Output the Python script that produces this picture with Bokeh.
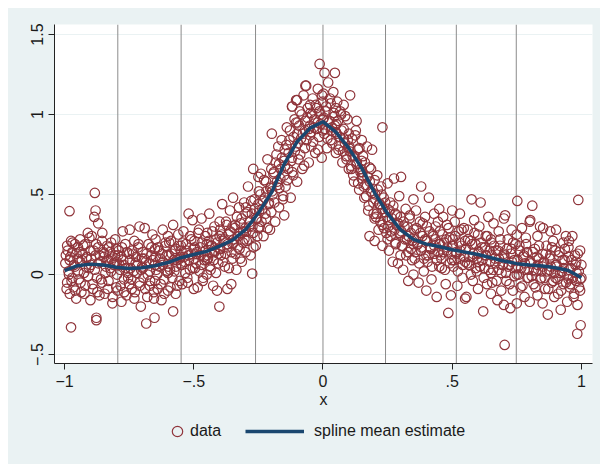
from bokeh.plotting import figure
from bokeh.layouts import column
from bokeh.models import (FixedTicker, Span, Legend, LegendItem, Range1d)
from bokeh.embed import file_html
from bokeh.resources import INLINE

# ---------------- data ----------------
x_data = [
    -0.995,-0.99,-0.99,-0.985,-0.98,-0.98,-0.975,-0.97,-0.97,-0.965,-0.96,-0.96,-0.955,-0.95,
    -0.948,-0.945,-0.94,-0.94,-0.935,-0.93,-0.925,-0.92,-0.92,-0.915,-0.91,-0.905,-0.90,-0.90,
    -0.898,-0.895,-0.89,-0.885,-0.88,-0.88,-0.875,-0.87,-0.87,-0.865,-0.86,-0.855,-0.855,-0.85,
    -0.848,-0.845,-0.84,-0.835,-0.83,-0.83,-0.825,-0.82,-0.82,-0.815,-0.81,-0.805,-0.80,-0.80,
    -0.798,-0.795,-0.79,-0.785,-0.78,-0.78,-0.775,-0.77,-0.77,-0.765,-0.76,-0.755,-0.75,-0.75,
    -0.748,-0.745,-0.74,-0.735,-0.73,-0.73,-0.725,-0.72,-0.715,-0.71,-0.71,-0.705,-0.70,-0.70,
    -0.698,-0.695,-0.69,-0.685,-0.68,-0.675,-0.67,-0.67,-0.665,-0.66,-0.655,-0.65,-0.65,-0.65,
    -0.648,-0.645,-0.64,-0.635,-0.63,-0.625,-0.62,-0.62,-0.615,-0.61,-0.605,-0.60,-0.60,-0.60,
    -0.598,-0.595,-0.59,-0.585,-0.58,-0.575,-0.57,-0.57,-0.565,-0.56,-0.555,-0.55,-0.55,-0.55,
    -0.548,-0.545,-0.54,-0.535,-0.53,-0.525,-0.52,-0.52,-0.515,-0.51,-0.505,-0.50,-0.50,-0.50,
    -0.498,-0.495,-0.49,-0.485,-0.48,-0.475,-0.47,-0.47,-0.465,-0.46,-0.455,-0.45,-0.45,-0.45,
    -0.448,-0.445,-0.44,-0.435,-0.43,-0.425,-0.42,-0.42,-0.415,-0.41,-0.405,-0.40,-0.40,-0.40,
    -0.398,-0.395,-0.39,-0.385,-0.38,-0.375,-0.37,-0.37,-0.365,-0.36,-0.355,-0.35,-0.35,-0.35,
    -0.348,-0.345,-0.34,-0.335,-0.33,-0.325,-0.32,-0.32,-0.315,-0.31,-0.305,-0.30,-0.30,-0.30,
    -0.298,-0.295,-0.29,-0.285,-0.28,-0.275,-0.27,-0.27,-0.265,-0.26,-0.255,-0.25,-0.25,-0.25,
    -0.248,-0.245,-0.24,-0.235,-0.23,-0.225,-0.22,-0.22,-0.215,-0.21,-0.205,-0.20,-0.20,-0.20,
    -0.198,-0.195,-0.19,-0.185,-0.18,-0.175,-0.17,-0.17,-0.165,-0.16,-0.155,-0.15,-0.15,-0.15,
    -0.148,-0.145,-0.14,-0.135,-0.13,-0.125,-0.12,-0.12,-0.115,-0.11,-0.105,-0.10,-0.10,-0.10,
    -0.098,-0.095,-0.09,-0.085,-0.08,-0.075,-0.07,-0.07,-0.065,-0.06,-0.055,-0.05,-0.05,-0.05,
    -0.048,-0.045,-0.04,-0.035,-0.03,-0.025,-0.02,-0.02,-0.015,-0.01,-0.005,0.0,0.0,0.0,
    0.002,0.005,0.01,0.015,0.02,0.025,0.03,0.03,0.035,0.04,0.045,0.05,0.05,0.05,
    0.052,0.055,0.06,0.065,0.07,0.075,0.08,0.08,0.085,0.09,0.095,0.10,0.10,0.10,
    0.102,0.105,0.11,0.115,0.12,0.125,0.13,0.13,0.135,0.14,0.145,0.15,0.15,0.15,
    0.152,0.155,0.16,0.165,0.17,0.175,0.18,0.18,0.185,0.19,0.195,0.20,0.20,0.20,
    0.202,0.205,0.21,0.215,0.22,0.225,0.23,0.23,0.235,0.24,0.245,0.25,0.25,0.25,
    0.252,0.255,0.26,0.265,0.27,0.275,0.28,0.28,0.285,0.29,0.295,0.30,0.30,0.30,
    0.302,0.305,0.31,0.315,0.32,0.325,0.33,0.33,0.335,0.34,0.345,0.35,0.35,0.35,
    0.352,0.355,0.36,0.365,0.37,0.375,0.38,0.38,0.385,0.39,0.395,0.40,0.40,0.40,
    0.402,0.405,0.41,0.415,0.42,0.425,0.43,0.43,0.435,0.44,0.445,0.45,0.45,0.45,
    0.452,0.455,0.46,0.465,0.47,0.475,0.48,0.48,0.485,0.49,0.495,0.50,0.50,0.50,
    0.502,0.505,0.51,0.515,0.52,0.525,0.53,0.53,0.535,0.54,0.545,0.55,0.55,0.55,
    0.552,0.555,0.56,0.565,0.57,0.575,0.58,0.58,0.585,0.59,0.595,0.60,0.60,0.60,
    0.602,0.605,0.61,0.615,0.62,0.625,0.63,0.63,0.635,0.64,0.645,0.65,0.65,0.65,
    0.652,0.655,0.66,0.665,0.67,0.675,0.68,0.68,0.685,0.69,0.695,0.70,0.70,0.70,
    0.702,0.705,0.71,0.715,0.72,0.725,0.73,0.73,0.735,0.74,0.745,0.75,0.75,0.75,
    0.752,0.755,0.76,0.765,0.77,0.775,0.78,0.78,0.785,0.79,0.795,0.80,0.80,0.80,
    0.802,0.805,0.81,0.815,0.82,0.825,0.83,0.83,0.835,0.84,0.845,0.85,0.85,0.85,
    0.852,0.855,0.86,0.865,0.87,0.875,0.88,0.88,0.885,0.89,0.895,0.90,0.90,0.90,
    0.902,0.905,0.91,0.915,0.92,0.925,0.93,0.93,0.935,0.94,0.945,0.95,0.95,0.95,
    0.952,0.955,0.96,0.965,0.97,0.975,0.98,0.98,0.985,0.99,0.995,1.0,1.0,0.995,
]
y_data = [
    0.12,-0.05,0.18,0.02,-0.12,0.09,0.21,-0.02,0.14,-0.08,0.05,0.19,-0.15,0.10,
    0.17,-0.03,0.08,0.22,-0.11,0.13,0.01,0.19,-0.07,0.10,0.26,0.04,-0.16,0.15,
    0.06,0.24,-0.09,0.36,0.40,0.12,-0.02,0.17,0.32,-0.13,0.08,0.21,-0.05,0.14,
    0.11,-0.12,0.05,0.18,0.09,-0.04,0.14,0.02,0.20,-0.18,0.07,0.12,-0.08,0.16,
    0.08,-0.10,0.15,0.03,-0.17,0.11,0.27,-0.03,0.06,0.19,-0.13,0.01,0.13,-0.06,
    0.28,0.04,-0.09,0.13,0.21,-0.15,0.07,0.01,0.17,-0.05,0.30,-0.20,0.10,0.05,
    0.14,-0.02,0.29,0.08,-0.14,0.19,0.02,-0.07,0.12,0.25,-0.11,0.06,0.16,-0.04,
    0.22,0.03,-0.09,0.15,0.10,-0.16,0.28,0.06,-0.03,0.18,0.12,-0.10,0.24,0.01,
    0.05,0.20,-0.08,0.13,0.31,0.02,0.16,-0.12,0.09,0.25,-0.04,0.18,0.07,0.11,
    0.15,-0.06,0.27,0.08,0.19,-0.02,0.38,0.12,0.03,0.22,0.34,-0.09,0.10,0.16,
    0.21,0.04,0.13,-0.08,0.28,0.17,0.06,0.35,-0.04,0.11,0.24,0.00,0.19,0.09,
    0.26,0.10,0.38,0.03,0.18,-0.07,0.30,0.14,0.22,-0.10,0.07,0.33,0.16,0.24,
    0.28,0.12,0.44,0.21,0.05,0.33,-0.09,0.17,0.25,0.40,-0.06,0.10,0.30,0.19,
    0.48,0.22,0.31,0.03,0.17,0.42,0.26,0.10,0.35,0.20,0.45,0.14,0.29,0.38,
    0.42,0.21,0.55,0.30,0.12,0.38,0.66,0.26,0.47,0.18,0.35,0.61,0.29,0.44,
    0.52,0.30,0.63,0.41,0.24,0.48,0.58,0.35,0.72,0.44,0.28,0.55,0.39,0.66,
    0.88,0.50,0.64,0.33,0.75,0.56,0.42,0.69,0.60,0.84,0.47,0.71,0.37,0.62,
    0.78,0.55,0.92,0.66,0.84,0.48,1.05,0.73,0.62,0.97,0.80,0.58,0.88,1.09,
    0.95,0.72,1.02,0.85,0.66,1.12,0.90,0.79,1.18,0.98,0.70,1.06,0.87,0.93,
    1.01,0.80,1.10,0.92,0.76,1.04,0.95,1.16,0.86,1.00,0.73,1.08,0.90,0.97,
    1.13,0.88,1.02,0.79,1.20,0.96,0.84,1.07,0.92,1.14,0.99,0.76,1.04,0.89,
    0.94,1.08,0.78,0.86,1.00,0.70,0.91,1.06,0.82,0.74,0.97,0.88,0.66,0.79,
    0.80,1.12,0.66,0.74,0.58,0.87,0.96,0.69,0.78,0.53,0.64,0.84,0.71,0.60,
    0.62,0.74,0.48,0.56,0.80,0.40,0.67,0.24,0.52,0.78,0.45,0.59,0.21,0.35,
    0.50,0.36,0.62,0.28,0.44,0.55,0.31,0.18,0.48,0.39,0.26,0.57,0.41,0.22,
    0.34,0.15,0.45,0.27,0.08,0.60,0.38,0.20,0.31,0.07,0.49,0.25,0.12,0.36,
    0.61,0.18,0.03,0.30,0.41,0.22,-0.04,0.14,0.35,0.26,0.09,0.47,0.19,0.00,
    0.28,0.10,0.40,0.19,-0.05,0.33,0.55,0.15,0.24,0.02,0.36,0.21,-0.10,0.12,
    0.30,0.08,0.48,0.17,-0.03,0.25,0.38,0.13,0.22,-0.14,0.33,0.05,0.19,0.41,
    0.27,0.12,0.04,0.36,0.20,-0.06,0.15,0.31,-0.24,0.23,-0.13,0.09,0.40,0.18,
    0.22,0.05,0.33,0.14,-0.07,0.27,0.10,0.38,0.18,-0.02,0.29,0.08,-0.15,0.21,
    0.16,-0.14,0.28,0.06,0.21,0.47,0.11,-0.04,0.34,0.19,0.02,0.25,0.13,-0.09,
    0.08,0.30,0.45,0.17,-0.23,0.04,0.24,0.12,-0.06,0.36,0.15,0.01,0.22,-0.12,
    0.20,-0.05,0.32,0.10,0.15,-0.16,0.27,0.03,0.18,-0.10,0.06,0.35,0.13,-0.19,
    0.12,0.37,-0.04,0.22,0.06,-0.21,0.16,0.28,-0.10,0.09,0.19,0.00,-0.18,0.25,
    0.46,0.05,0.18,-0.08,0.29,0.11,-0.14,0.03,0.23,0.14,-0.02,0.33,0.08,-0.17,
    0.34,0.07,0.43,-0.06,0.16,0.02,0.24,-0.13,0.10,0.30,-0.02,0.13,0.05,-0.18,
    0.29,0.08,-0.09,0.18,-0.25,0.03,0.27,0.12,-0.05,0.21,-0.14,0.06,0.15,-0.02,
    0.28,0.05,-0.12,0.14,-0.22,0.02,0.20,-0.06,0.09,0.24,-0.17,0.11,-0.03,0.17,
    0.21,-0.08,0.04,0.24,-0.14,0.12,-0.04,0.08,-0.19,0.02,-0.10,0.06,-0.02,0.15,
]
# the denser core of the cloud, close to the curve
x_core = [
    -0.997,-0.992,-0.988,-0.983,-0.978,-0.973,-0.969,-0.964,-0.959,-0.954,
    -0.947,-0.942,-0.938,-0.933,-0.928,-0.923,-0.919,-0.914,-0.909,-0.904,
    -0.897,-0.892,-0.888,-0.883,-0.878,-0.873,-0.869,-0.864,-0.859,-0.854,
    -0.847,-0.842,-0.838,-0.833,-0.828,-0.823,-0.819,-0.814,-0.809,-0.804,
    -0.797,-0.792,-0.788,-0.783,-0.778,-0.773,-0.769,-0.764,-0.759,-0.754,
    -0.747,-0.742,-0.738,-0.733,-0.728,-0.723,-0.719,-0.714,-0.709,-0.704,
    -0.697,-0.692,-0.688,-0.683,-0.678,-0.673,-0.669,-0.664,-0.659,-0.654,
    -0.647,-0.642,-0.638,-0.633,-0.628,-0.623,-0.619,-0.614,-0.609,-0.604,
    -0.597,-0.592,-0.588,-0.583,-0.578,-0.573,-0.569,-0.564,-0.559,-0.554,
    -0.547,-0.542,-0.538,-0.533,-0.528,-0.523,-0.519,-0.514,-0.509,-0.504,
    -0.497,-0.492,-0.488,-0.483,-0.478,-0.473,-0.469,-0.464,-0.459,-0.454,
    -0.447,-0.442,-0.438,-0.433,-0.428,-0.423,-0.419,-0.414,-0.409,-0.404,
    -0.397,-0.392,-0.388,-0.383,-0.378,-0.373,-0.369,-0.364,-0.359,-0.354,
    -0.347,-0.342,-0.338,-0.333,-0.328,-0.323,-0.319,-0.314,-0.309,-0.304,
    -0.297,-0.292,-0.288,-0.283,-0.278,-0.273,-0.269,-0.264,-0.259,-0.254,
    -0.247,-0.242,-0.238,-0.233,-0.228,-0.223,-0.219,-0.214,-0.209,-0.204,
    -0.197,-0.192,-0.188,-0.183,-0.178,-0.173,-0.169,-0.164,-0.159,-0.154,
    -0.147,-0.142,-0.138,-0.133,-0.128,-0.123,-0.119,-0.114,-0.109,-0.104,
    -0.097,-0.092,-0.088,-0.083,-0.078,-0.073,-0.069,-0.064,-0.059,-0.054,
    -0.047,-0.042,-0.038,-0.033,-0.028,-0.023,-0.019,-0.014,-0.009,-0.004,
    0.003,0.008,0.012,0.017,0.022,0.027,0.031,0.036,0.041,0.046,
    0.053,0.058,0.062,0.067,0.072,0.077,0.081,0.086,0.091,0.096,
    0.103,0.108,0.112,0.117,0.122,0.127,0.131,0.136,0.141,0.146,
    0.153,0.158,0.162,0.167,0.172,0.177,0.181,0.186,0.191,0.196,
    0.203,0.208,0.212,0.217,0.222,0.227,0.231,0.236,0.241,0.246,
    0.253,0.258,0.262,0.267,0.272,0.277,0.281,0.286,0.291,0.296,
    0.303,0.308,0.312,0.317,0.322,0.327,0.331,0.336,0.341,0.346,
    0.353,0.358,0.362,0.367,0.372,0.377,0.381,0.386,0.391,0.396,
    0.403,0.408,0.412,0.417,0.422,0.427,0.431,0.436,0.441,0.446,
    0.453,0.458,0.462,0.467,0.472,0.477,0.481,0.486,0.491,0.496,
    0.503,0.508,0.512,0.517,0.522,0.527,0.531,0.536,0.541,0.546,
    0.553,0.558,0.562,0.567,0.572,0.577,0.581,0.586,0.591,0.596,
    0.603,0.608,0.612,0.617,0.622,0.627,0.631,0.636,0.641,0.646,
    0.653,0.658,0.662,0.667,0.672,0.677,0.681,0.686,0.691,0.696,
    0.703,0.708,0.712,0.717,0.722,0.727,0.731,0.736,0.741,0.746,
    0.753,0.758,0.762,0.767,0.772,0.777,0.781,0.786,0.791,0.796,
    0.803,0.808,0.812,0.817,0.822,0.827,0.831,0.836,0.841,0.846,
    0.853,0.858,0.862,0.867,0.872,0.877,0.881,0.886,0.891,0.896,
    0.903,0.908,0.912,0.917,0.922,0.927,0.931,0.936,0.941,0.946,
    0.953,0.958,0.962,0.967,0.972,0.977,0.981,0.986,0.991,0.996,
]
y_core = [
    0.07,-0.09,0.15,0.00,0.11,-0.04,0.20,0.06,-0.10,0.13,
    0.02,0.14,-0.05,0.09,0.18,-0.12,0.05,0.11,-0.01,0.23,
    0.10,-0.06,0.15,0.03,0.19,-0.11,0.07,0.12,-0.03,0.26,
    0.13,0.01,0.08,-0.09,0.17,0.04,0.10,-0.14,0.06,0.22,
    0.00,0.12,0.06,-0.07,0.17,0.09,-0.11,0.04,0.14,-0.02,
    0.09,-0.03,0.15,0.02,-0.11,0.11,0.06,0.19,-0.07,0.03,
    0.04,0.10,-0.09,0.13,0.00,0.07,-0.04,0.17,0.09,-0.15,
    0.11,0.00,0.17,0.05,-0.06,0.13,0.08,-0.12,0.20,0.02,
    0.12,0.03,0.21,-0.02,0.09,0.15,0.05,-0.07,0.18,0.10,
    0.06,0.20,0.11,0.01,0.15,-0.05,0.09,0.24,0.13,0.04,
    0.17,0.07,0.14,0.26,0.02,0.12,0.20,-0.02,0.09,0.15,
    0.12,0.21,0.05,0.18,0.27,0.09,0.15,0.01,0.20,0.13,
    0.16,0.25,0.08,0.22,0.13,0.31,0.19,0.04,0.27,0.14,
    0.20,0.29,0.13,0.36,0.24,0.16,0.32,0.08,0.27,0.22,
    0.27,0.39,0.22,0.33,0.46,0.30,0.17,0.41,0.35,0.24,
    0.40,0.50,0.33,0.46,0.59,0.38,0.52,0.29,0.45,0.54,
    0.52,0.63,0.45,0.70,0.58,0.80,0.54,0.66,0.73,0.49,
    0.68,0.81,0.59,0.76,0.90,0.71,0.64,0.86,0.77,0.95,
    0.82,0.93,0.75,1.00,0.88,0.68,0.96,0.84,1.04,0.91,
    0.89,1.00,0.83,0.97,1.06,0.91,0.78,1.02,0.94,1.12,
    0.98,0.91,1.05,0.85,0.95,1.10,0.90,0.82,1.01,0.93,
    0.88,0.96,0.80,1.02,0.90,0.77,0.85,0.99,0.72,0.84,
    0.77,0.68,0.85,0.62,0.74,0.90,0.70,0.57,0.79,0.66,
    0.64,0.55,0.70,0.49,0.61,0.43,0.58,0.66,0.51,0.38,
    0.47,0.38,0.53,0.44,0.33,0.50,0.41,0.29,0.45,0.36,
    0.30,0.40,0.24,0.35,0.43,0.28,0.19,0.37,0.32,0.26,
    0.27,0.18,0.33,0.22,0.12,0.30,0.24,0.37,0.16,0.21,
    0.23,0.14,0.29,0.19,0.07,0.26,0.17,0.32,0.10,0.22,
    0.21,0.12,0.27,0.16,0.05,0.24,0.18,0.30,0.09,0.14,
    0.19,0.10,0.25,0.14,0.03,0.22,0.17,0.29,0.07,0.13,
    0.18,0.09,0.24,0.13,0.02,0.20,0.15,0.28,0.06,0.11,
    0.16,0.07,0.22,0.11,0.00,0.19,0.13,0.26,0.04,0.10,
    0.14,0.05,0.20,0.09,-0.02,0.17,0.12,0.24,0.03,0.08,
    0.12,0.03,0.18,0.07,-0.04,0.15,0.10,0.22,0.01,0.06,
    0.10,0.01,0.16,0.05,-0.06,0.13,0.08,0.20,-0.01,0.04,
    0.09,0.00,0.15,0.04,-0.07,0.12,0.07,0.19,-0.02,0.03,
    0.08,-0.01,0.14,0.03,-0.08,0.11,0.06,0.18,-0.03,0.02,
    0.07,-0.02,0.13,0.02,-0.09,0.10,0.05,0.17,-0.04,0.01,
    0.06,-0.03,0.12,0.01,-0.10,0.09,0.04,0.16,-0.05,0.00,
    0.03,-0.06,0.09,-0.02,-0.12,0.06,0.01,0.13,-0.08,-0.03,
]
# isolated points read separately
x_outliers = [-0.883,-0.981,-0.975,-0.877,-0.877,-0.684,-0.652,-0.58,-0.401,-0.274,
              0.23,0.703,0.997,0.984,0.988,-0.013,0.006,0.046,-0.068,-0.104,-0.119]
y_outliers = [0.51,0.396,-0.33,-0.27,-0.285,-0.306,-0.27,-0.23,-0.2,0.006,
              0.92,-0.44,-0.317,-0.37,0.466,1.316,1.26,1.26,1.18,1.09,1.05]

# spline mean estimate
spline_x = [-1,-0.95,-0.9,-0.85,-0.8,-0.75,-0.7,-0.65,-0.6,-0.55,-0.5,-0.45,-0.4,-0.35,
            -0.3,-0.25,-0.2,-0.15,-0.1,-0.05,0,0.05,0.1,0.15,0.2,0.25,0.3,0.35,0.4,
            0.45,0.5,0.55,0.6,0.65,0.7,0.75,0.8,0.85,0.9,0.95,1]
spline_y = [0.025,0.055,0.065,0.06,0.045,0.037,0.043,0.055,0.075,0.105,0.125,0.145,0.178,0.215,
            0.28,0.385,0.51,0.69,0.83,0.915,0.955,0.89,0.79,0.665,0.51,0.38,0.28,0.22,0.19,
            0.175,0.155,0.14,0.125,0.105,0.085,0.068,0.06,0.053,0.042,0.025,-0.02]

# knot positions (vertical reference lines)
knots = [-0.794, -0.549, -0.261, 0.0, 0.242, 0.516, 0.748]

x_ticks = [-1, -0.5, 0, 0.5, 1]
x_tick_labels = ["\u22121", "\u2212.5", "0", ".5", "1"]
y_ticks = [-0.5, 0, 0.5, 1, 1.5]
y_tick_labels = ["\u2212.5", "0", ".5", "1", "1.5"]

# ---------------- styling ----------------
BG = "#EAF2F3"
MAROON = "#90353B"
NAVY = "#1A476F"
FONT = "Liberation Sans"
MARKER = dict(size=9.5, marker="circle", fill_color=None, line_color=MAROON, line_width=1.2)
LINE = dict(line_color=NAVY, line_width=3.5)

all_x = x_data + x_core + x_outliers
all_y = y_data + y_core + y_outliers

p = figure(width=592, height=406, output_backend="svg", toolbar_location=None,
           x_range=Range1d(-1.039, 1.043), y_range=Range1d(-0.556, 1.5625),
           min_border_left=46, min_border_right=8, min_border_top=16, min_border_bottom=51)
p.background_fill_color = "white"
p.border_fill_color = BG
p.outline_line_color = None

p.xgrid.visible = False
p.ygrid.grid_line_color = BG
p.ygrid.grid_line_width = 1.2
p.ygrid.ticker = FixedTicker(ticks=y_ticks)

for k in knots:
    p.add_layout(Span(location=k, dimension="height", line_color="#8C8C8C",
                      line_width=1, level="underlay"))

sc = p.scatter(all_x, all_y, **MARKER)
ln = p.line(spline_x, spline_y, **LINE)

def label_map(ticks, labels):
    out = {}
    for t, l in zip(ticks, labels):
        key = int(t) if float(t).is_integer() else t
        out[key] = l
    return out

for ax, ticks, labels in ((p.xaxis[0], x_ticks, x_tick_labels), (p.yaxis[0], y_ticks, y_tick_labels)):
    ax.ticker = FixedTicker(ticks=ticks)
    ax.major_label_overrides = label_map(ticks, labels)
    ax.minor_tick_line_color = None
    ax.major_tick_in = 0
    ax.major_tick_out = 6
    ax.axis_line_color = "#222222"
    ax.major_tick_line_color = "#222222"
    ax.major_label_text_font = FONT
    ax.major_label_text_font_size = "16px"
    ax.major_label_text_color = "#1a1a1a"
    ax.major_label_standoff = 5
    ax.axis_label_text_font = FONT
    ax.axis_label_text_font_size = "16px"
    ax.axis_label_text_font_style = "normal"
    ax.axis_label_text_color = "#1a1a1a"

p.xaxis.axis_label = "x"
p.xaxis.axis_label_standoff = 1
p.yaxis.major_label_orientation = "vertical"

# ---------------- legend strip (same data, hidden renderers; only the keys show) ----------------
lg = figure(width=592, height=50, output_backend="svg", toolbar_location=None,
            x_axis_type=None, y_axis_type=None,
            min_border_left=46, min_border_right=8, min_border_top=0, min_border_bottom=0,
            x_range=Range1d(-1.039, 1.043), y_range=Range1d(-0.556, 1.5625),
            styles={"background-color": BG})
lg.background_fill_color = BG
lg.border_fill_color = BG
lg.outline_line_color = None
lsc = lg.scatter(all_x, all_y, visible=False, **MARKER)
lln = lg.line(spline_x, spline_y, visible=False, **LINE)

leg_common = dict(padding=0, margin=0, spacing=0, border_line_color=None,
                  background_fill_alpha=0, inactive_fill_alpha=0,
                  label_text_font=FONT,
                  label_text_font_size="16px", label_text_color="#1a1a1a")
leg1 = Legend(items=[LegendItem(label="data", renderers=[lsc])], location=(110, 20),
              glyph_width=26, glyph_height=26, label_height=26, label_standoff=0, **leg_common)
leg2 = Legend(items=[LegendItem(label="spline mean estimate", renderers=[lln])], location=(191, 23),
              glyph_width=59, glyph_height=20, label_height=20, label_standoff=10, **leg_common)
lg.add_layout(leg1)
lg.add_layout(leg2)

layout = column(p, lg, spacing=0, margin=(8, 0, 0, 8), styles={"background-color": BG})
open("out.html", "w").write(file_html(layout, INLINE))
